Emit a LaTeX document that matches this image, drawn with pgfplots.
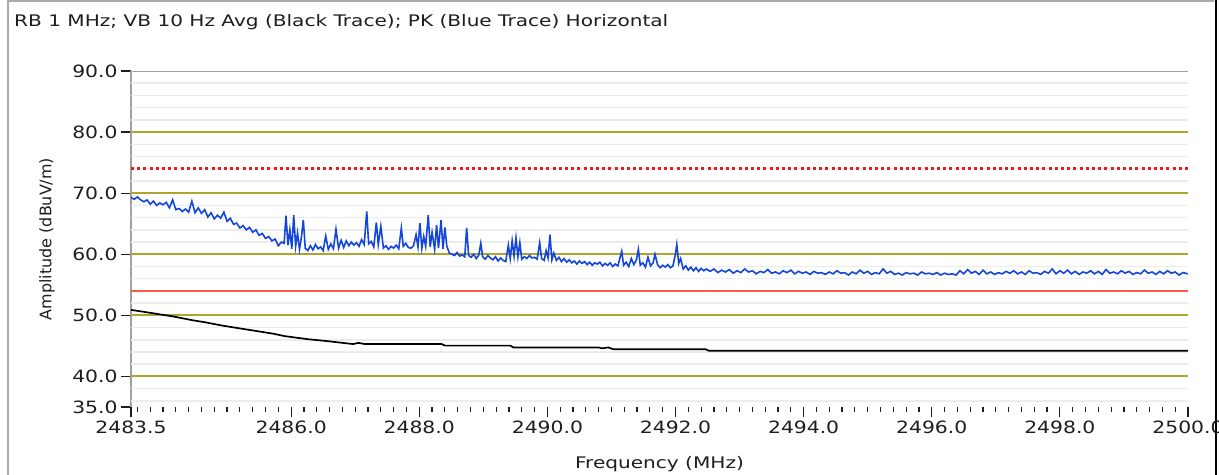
\documentclass[border=0pt]{standalone}
\usepackage{fontspec}
\setmainfont{DejaVu Sans}
\newfontfamily\tickfont{DejaVu Sans}[FakeStretch=1.2]
\newfontfamily\widefont{DejaVu Sans}[FakeStretch=1.26]
\usepackage{pgfplots}
\pgfplotsset{compat=1.18}
\definecolor{olivegrid}{RGB}{172,166,46}
\definecolor{minorgrid}{RGB}{236,236,236}
\definecolor{axisgray}{RGB}{160,160,160}
\definecolor{framegray}{RGB}{170,170,170}
\definecolor{labelgray}{RGB}{30,30,30}
\definecolor{limred}{RGB}{232,28,28}
\definecolor{limred2}{RGB}{255,90,75}
\definecolor{traceblue}{RGB}{20,70,220}
\begin{document}
\begin{tikzpicture}
\useasboundingbox (0,0) rectangle (1219bp,475bp);
\fill[white] (0,0) rectangle (1219bp,475bp);
\draw[framegray, line width=2bp] (8bp,0) -- (8bp,474bp) -- (1214bp,474bp);
\draw[black, line width=2.5bp] (1216bp,0) -- (1216bp,475bp);
\node[anchor=base west, inner sep=0, font=\widefont\fontsize{16}{19}\selectfont, text=labelgray] at (14bp,448bp) {RB 1 MHz; VB 10 Hz Avg (Black Trace); PK (Blue Trace) Horizontal};
\begin{axis}[
  at={(131bp,68bp)}, anchor=south west,
  scale only axis, width=1057bp, height=336bp,
  xmin=2483.5, xmax=2500, ymin=35, ymax=90,
  axis lines=left,
  axis line style={-, draw=axisgray, line width=2bp},
  x axis line style={draw=none},
  ytick={35,40,50,60,70,80,90},
  xtick={2483.5,2486,2488,2490,2492,2494,2496,2498,2500},
  minor xtick={2483.6,2483.8,...,2499.9},
  tick align=outside,
  major tick length=10bp, minor tick length=5bp,
  tick style={color=labelgray, line width=1.2bp},
  xticklabel style={font=\tickfont\fontsize{17}{20}\selectfont, text=labelgray,
    /pgf/number format/.cd, fixed, fixed zerofill, precision=1, 1000 sep={}, assume math mode=true},
  yticklabel style={font=\tickfont\fontsize{17}{20}\selectfont, text=labelgray,
    /pgf/number format/.cd, fixed, fixed zerofill, precision=1, 1000 sep={}, assume math mode=true},
  xlabel={Frequency (MHz)}, ylabel={Amplitude (dBuV/m)},
  xlabel style={font=\widefont\fontsize{16}{19}\selectfont, text=labelgray, at={(axis description cs:0.5,0)}, anchor=base, yshift=-61bp},
  ylabel style={font=\fontsize{16}{19}\selectfont, text=labelgray, at={(axis description cs:-0.0795,0.5)}, anchor=center},
  clip=true,
]
\pgfplotsinvokeforeach{36,38,42,44,46,48,52,54,56,58,62,64,66,68,72,74,76,78,82,84,86,88}{
  \addplot[minorgrid, line width=1.5bp, forget plot] coordinates {(2483.5,#1) (2500,#1)};
}
\pgfplotsinvokeforeach{40,50,60,70,80}{
  \addplot[olivegrid, line width=2bp, forget plot] coordinates {(2483.5,#1) (2500,#1)};
}
\addplot[limred, line width=2.6bp, dash pattern=on 3bp off 3.2bp] coordinates {(2483.5,74) (2500,74)};
\addplot[limred2, line width=2bp] coordinates {(2483.5,54) (2500,54)};
% Black trace (average)
\addplot[black, line width=1.7bp] coordinates {
(2483.50,50.9) (2483.81,50.4) (2484.17,49.8) (2484.46,49.2) (2484.64,48.9)
(2484.94,48.3) (2485.12,48.0) (2485.42,47.5) (2485.72,47.0) (2485.90,46.6)
(2486.26,46.1) (2486.55,45.8) (2486.97,45.3) (2487.05,45.5) (2487.15,45.3)
(2488.35,45.3) (2488.40,45.05) (2489.42,45.05) (2489.47,44.75) (2490.80,44.75)
(2490.85,44.6) (2490.95,44.75) (2491.03,44.45) (2492.47,44.45) (2492.52,44.2)
(2500.00,44.2)
};
% Blue trace (peak)
\addplot[traceblue, line width=1.6bp] coordinates {
(2483.50,69.3) (2483.55,69.0) (2483.60,69.4) (2483.65,68.9) (2483.70,68.6)
(2483.75,68.9) (2483.80,68.2) (2483.85,68.7) (2483.90,68.0) (2483.95,68.4)
(2484.00,68.1) (2484.05,68.5) (2484.10,67.6) (2484.15,68.9) (2484.20,67.3)
(2484.25,67.5) (2484.30,67.0) (2484.35,67.4) (2484.40,66.9) (2484.45,68.7)
(2484.50,66.8) (2484.55,67.6) (2484.60,66.7) (2484.65,67.3) (2484.70,66.1)
(2484.75,66.8) (2484.80,65.8) (2484.85,66.4) (2484.90,65.9) (2484.95,66.9)
(2485.00,65.4) (2485.05,65.9) (2485.10,64.9) (2485.15,65.1) (2485.20,64.3)
(2485.25,64.7) (2485.30,64.0) (2485.35,64.4) (2485.40,63.6) (2485.45,64.0)
(2485.50,63.1) (2485.55,63.4) (2485.60,62.6) (2485.65,62.9) (2485.70,62.2)
(2485.75,62.5) (2485.80,61.4) (2485.85,62.0)
(2485.89,61.8) (2485.92,66.3) (2485.95,61.5) (2485.98,64.0) (2486.01,60.9)
(2486.04,66.4) (2486.07,61.3) (2486.10,63.5) (2486.13,60.8) (2486.16,62.8)
(2486.19,65.6) (2486.22,61.0) (2486.26,60.6) (2486.30,61.4) (2486.34,60.7)
(2486.38,61.6) (2486.42,60.9) (2486.46,61.2) (2486.50,60.6) (2486.54,63.0)
(2486.58,60.8) (2486.62,61.7) (2486.66,60.9) (2486.70,64.1) (2486.74,61.0)
(2486.78,62.3) (2486.82,61.1) (2486.86,62.2) (2486.90,61.4) (2486.94,62.0)
(2486.98,61.5) (2487.02,61.9) (2487.06,61.3) (2487.10,62.4) (2487.14,61.6)
(2487.18,67.0) (2487.21,61.7) (2487.25,62.1) (2487.29,61.2) (2487.33,65.2)
(2487.36,61.6) (2487.40,64.6) (2487.44,61.0) (2487.48,61.4) (2487.52,60.8)
(2487.56,61.3) (2487.60,61.0) (2487.64,61.5) (2487.68,60.9) (2487.72,64.3)
(2487.75,61.3) (2487.79,61.8) (2487.83,61.1) (2487.87,61.0) (2487.91,61.4)
(2487.95,63.2) (2487.98,61.2) (2488.01,65.1) (2488.04,61.0) (2488.07,62.9)
(2488.10,61.3) (2488.14,66.4) (2488.17,61.2) (2488.20,63.6) (2488.24,60.8)
(2488.27,64.8) (2488.30,61.0) (2488.34,65.6) (2488.37,60.9) (2488.40,64.4)
(2488.43,61.3) (2488.47,60.2) (2488.51,60.0) (2488.55,59.8) (2488.59,60.3)
(2488.63,59.7) (2488.67,59.9) (2488.71,59.6) (2488.74,64.3) (2488.77,59.8)
(2488.81,59.5) (2488.85,60.0) (2488.89,59.3) (2488.93,59.9) (2488.96,61.8)
(2488.99,59.6) (2489.03,59.2) (2489.07,59.8) (2489.11,59.4) (2489.15,59.1)
(2489.19,59.6) (2489.23,58.9) (2489.27,59.4) (2489.31,59.0) (2489.35,58.8)
(2489.39,61.5) (2489.42,59.3) (2489.45,62.2) (2489.48,59.7) (2489.51,62.7)
(2489.54,59.6) (2489.57,61.9) (2489.60,59.2)
(2489.64,59.6) (2489.68,59.3) (2489.72,59.8) (2489.76,59.4) (2489.80,59.5)
(2489.84,59.2) (2489.88,61.9) (2489.91,59.3) (2489.95,59.0) (2489.98,60.6)
(2490.01,59.4) (2490.04,63.2) (2490.07,59.1) (2490.10,60.2) (2490.14,59.0)
(2490.18,59.5) (2490.22,58.8) (2490.26,59.3) (2490.30,58.7) (2490.34,59.1)
(2490.38,58.6) (2490.42,58.9) (2490.46,58.4) (2490.50,58.9) (2490.54,58.5)
(2490.58,58.8) (2490.62,58.3) (2490.66,58.7) (2490.70,58.2) (2490.74,58.6)
(2490.78,58.4) (2490.82,58.7) (2490.86,58.1) (2490.90,58.5) (2490.94,58.2)
(2490.98,58.6) (2491.02,58.0) (2491.06,58.4) (2491.10,58.1) (2491.16,60.5)
(2491.19,58.2) (2491.23,58.7) (2491.27,58.0) (2491.31,59.3) (2491.35,58.3)
(2491.39,59.1) (2491.42,60.8) (2491.45,58.2) (2491.49,58.6) (2491.53,57.9)
(2491.57,59.5) (2491.61,58.1) (2491.65,58.6) (2491.68,60.0) (2491.72,58.3)
(2491.76,57.8) (2491.80,58.2) (2491.84,57.9) (2491.88,58.3) (2491.92,57.8)
(2491.96,58.1) (2492.00,60.1) (2492.02,61.6) (2492.05,58.5) (2492.08,59.3)
(2492.12,57.6) (2492.16,58.1) (2492.20,57.4) (2492.24,57.9) (2492.28,57.3)
(2492.32,57.8) (2492.36,57.2) (2492.40,57.7) (2492.44,57.3) (2492.48,57.6)
(2492.54,57.2) (2492.60,57.6) (2492.66,57.0) (2492.72,57.4) (2492.78,57.1)
(2492.84,57.5) (2492.90,56.9) (2492.96,57.3) (2493.02,57.0) (2493.08,57.6)
(2493.14,57.1) (2493.20,57.3) (2493.26,56.8) (2493.32,57.2) (2493.38,57.0)
(2493.44,57.5) (2493.50,56.9) (2493.56,57.1) (2493.62,56.8) (2493.68,57.3)
(2493.74,57.0) (2493.80,57.4) (2493.86,56.8) (2493.92,57.2) (2493.98,56.9)
(2494.04,57.1) (2494.10,56.7) (2494.16,57.2) (2494.22,56.9) (2494.28,57.0)
(2494.34,56.7) (2494.40,57.1) (2494.46,56.8) (2494.52,57.3) (2494.58,56.9)
(2494.64,57.0) (2494.70,56.6) (2494.76,57.1) (2494.82,56.8) (2494.88,57.4)
(2494.94,56.9) (2495.00,57.2) (2495.06,56.7) (2495.12,57.0) (2495.18,56.8)
(2495.24,57.6) (2495.30,56.9) (2495.36,57.2) (2495.42,56.7) (2495.48,56.9)
(2495.54,56.6) (2495.60,57.0) (2495.66,56.8) (2495.72,56.9) (2495.78,56.6)
(2495.84,57.1) (2495.90,56.8) (2495.96,56.9) (2496.02,56.7) (2496.08,57.0)
(2496.14,56.6) (2496.20,56.9) (2496.26,56.7) (2496.32,56.8) (2496.38,56.6)
(2496.44,57.3) (2496.50,56.8) (2496.56,57.5) (2496.62,56.9) (2496.68,57.2)
(2496.74,56.7) (2496.80,57.4) (2496.86,56.8) (2496.92,57.1) (2496.98,56.7)
(2497.04,57.0) (2497.10,56.8) (2497.16,57.2) (2497.22,56.9) (2497.28,57.3)
(2497.34,56.8) (2497.40,57.1) (2497.46,56.7) (2497.52,57.3) (2497.58,56.9)
(2497.64,57.0) (2497.70,56.7) (2497.76,57.2) (2497.82,56.9) (2497.88,57.6)
(2497.94,56.8) (2498.00,57.3) (2498.06,56.9) (2498.12,57.4) (2498.18,56.8)
(2498.24,57.2) (2498.30,56.7) (2498.36,57.1) (2498.42,56.9) (2498.48,57.3)
(2498.54,56.8) (2498.60,57.2) (2498.66,56.7) (2498.72,57.5) (2498.78,56.9)
(2498.84,57.1) (2498.90,56.8) (2498.96,57.3) (2499.02,56.9) (2499.08,57.2)
(2499.14,56.7) (2499.20,57.0) (2499.26,56.8) (2499.32,57.4) (2499.38,56.9)
(2499.44,57.1) (2499.50,56.7) (2499.56,57.2) (2499.62,56.8) (2499.68,57.3)
(2499.74,56.9) (2499.80,57.1) (2499.86,56.6) (2499.92,57.0) (2500.00,56.8)
};
\addplot[axisgray, line width=2bp, forget plot] coordinates {(2483.5,90) (2500,90)};
\end{axis}
\end{tikzpicture}
\end{document}
